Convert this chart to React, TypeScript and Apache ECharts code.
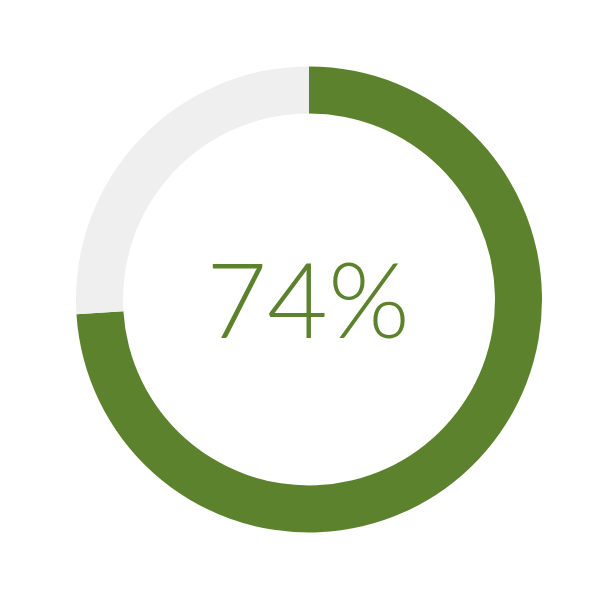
import * as echarts from 'echarts';
import { useEffect, useRef } from 'react';

const categories = ['完成', '剩余'];
const values = [74, 26];
const colors = ['#5d822e', '#efefef'];
const centerLabel = '74%';

export default function App() {
  const ref = useRef<HTMLDivElement | null>(null);

  useEffect(() => {
    document.body.style.margin = '0';
    if (!ref.current) return;
    const chart = echarts.init(ref.current, undefined, { renderer: 'svg' });
    chart.setOption({
      animation: false,
      series: [
        {
          type: 'pie',
          center: [309, 299.5],
          radius: [186, 233],
          startAngle: 90,
          clockwise: true,
          silent: true,
          label: { show: false },
          labelLine: { show: false },
          data: categories.map((name, i) => ({
            name,
            value: values[i],
            itemStyle: { color: colors[i] },
          })),
        },
      ],
      graphic: [
        {
          type: 'text',
          x: 308,
          y: 297,
          style: {
            text: centerLabel,
            fill: '#5d822e',
            font: '300 105px Lato',
            align: 'center',
            verticalAlign: 'middle',
          },
        },
      ],
    });
    return () => chart.dispose();
  }, []);

  return <div ref={ref} style={{ width: 601, height: 600 }} />;
}
